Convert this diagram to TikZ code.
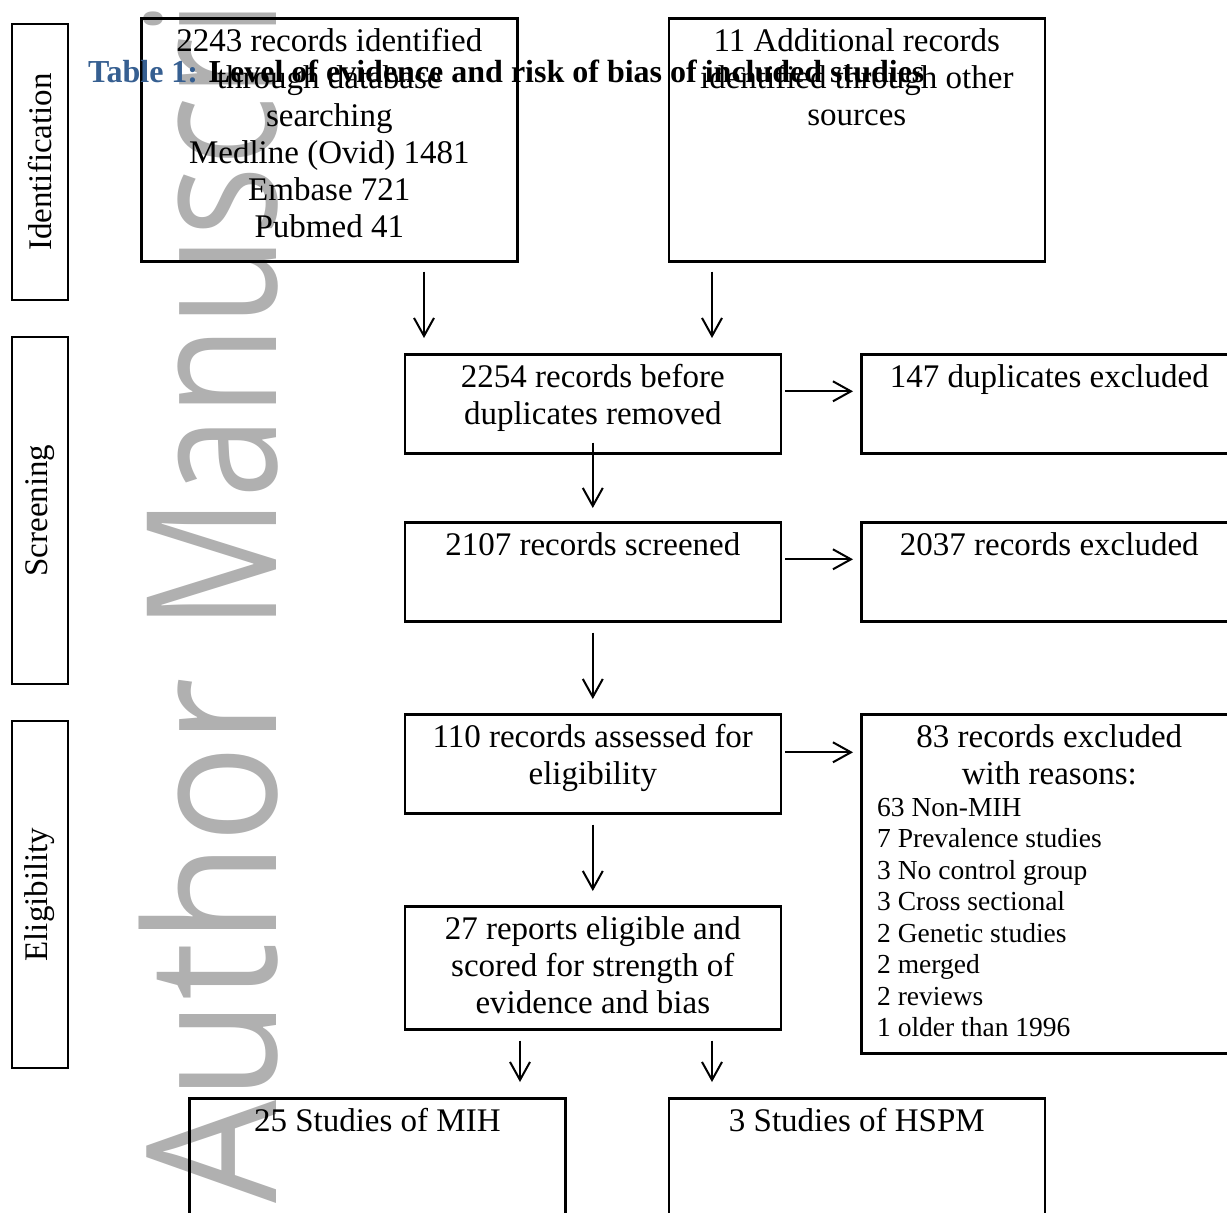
\documentclass[tikz,border=0pt]{standalone}
\usepackage{fontspec}
\setmainfont{Liberation Serif}
\newfontfamily\wmfont{Open Sans}
\usetikzlibrary{arrows.meta,calc}
\definecolor{wmgray}{RGB}{176,176,176}
\definecolor{tblue}{RGB}{54,95,145}
\begin{document}
\begin{tikzpicture}[x=1pt,y=-1pt,
  box/.style={draw, line width=2.6pt, inner sep=0pt, anchor=north west, minimum width=376pt},
  sidebox/.style={draw, line width=2.6pt, inner sep=0pt, rotate=90, minimum height=56pt, font=\fontsize{33}{37.3}\selectfont},
  txt/.style={anchor=north, inner sep=0pt, align=center, font=\fontsize{33}{37.3}\selectfont},
  wmark/.style={rotate=90, anchor=base west, inner sep=0pt, text=wmgray, font=\wmfont\fontsize{181}{181}\selectfont},
  arr/.style={line width=2pt, -{Straight Barb[length=18pt,width=20pt,line width=2pt]}}]
\useasboundingbox (0,0) rectangle (1227,1213);
\clip (0,0) rectangle (1227,1213);
\fill[white] (0,0) rectangle (1227,1213);
% watermark
\node[wmark] (wm1) at (276,1204) {\scalebox{0.9}[1]{Author}};
\node[wmark] (wm2) at (276,631) {\scalebox{0.81}[1]{Manuscript}};
% side boxes
\node[sidebox, minimum width=276pt] (sid) at (40,162) {Identification};
\node[sidebox, minimum width=347pt] (sscr) at (40,510.5) {Screening};
\node[sidebox, minimum width=347pt] (selig) at (40,894.5) {Eligibility};
% boxes
\node[box, minimum height=243pt] (a) at (140,17) {};
\node[box, minimum height=243pt] (b) at (667.5,17) {};
\node[box, minimum height=99pt] (c) at (403.5,353) {};
\node[box, minimum height=99pt] (d) at (860,353) {};
\node[box, minimum height=99pt] (e) at (403.5,521) {};
\node[box, minimum height=99pt] (f) at (860,521) {};
\node[box, minimum height=99pt] (g) at (403.5,713) {};
\node[box, minimum height=339pt] (h) at (860,713) {};
\node[box, minimum height=123pt] (i) at (403.5,905) {};
\node[box, minimum height=200pt] (j) at (188,1097) {};
\node[box, minimum height=200pt] (k) at (667.5,1097) {};
% texts
\node[txt] (ta) at ([yshift=-11pt]a.north) {2243 records identified\\through database\\searching\\Medline (Ovid) 1481\\Embase 721\\Pubmed 41};
\node[txt] (tb) at ([yshift=-11pt]b.north) {11 Additional records\\identified through other\\sources};
\node[txt] (tc) at ([yshift=-11pt]c.north) {2254 records before\\duplicates removed};
\node[txt] (td) at ([yshift=-11pt]d.north) {147 duplicates excluded};
\node[txt] (te) at ([yshift=-11pt]e.north) {2107 records screened};
\node[txt] (tf) at ([yshift=-11pt]f.north) {2037 records excluded};
\node[txt] (tg) at ([yshift=-11pt]g.north) {110 records assessed for\\eligibility};
\node[txt] (th) at ([yshift=-11pt]h.north) {83 records excluded\\with reasons:};
\node[anchor=north west, inner sep=0pt, align=left, font=\fontsize{27.5}{31.5}\selectfont] (thl) at (877,798) {63 Non-MIH\\7 Prevalence studies\\3 No control group\\3 Cross sectional\\2 Genetic studies\\2 merged\\2 reviews\\1 older than 1996};
\node[txt] (ti) at ([yshift=-11pt]i.north) {27 reports eligible and\\scored for strength of\\evidence and bias};
\node[txt] (tj) at ([yshift=-11pt]j.north) {25 Studies of MIH};
\node[txt] (tk) at ([yshift=-11pt]k.north) {3 Studies of HSPM};
% title
\node[anchor=base west, inner sep=0pt, font=\fontsize{32}{38}\selectfont\bfseries] (title) at (88,82) {\textcolor{tblue}{Table 1:} Level of evidence and risk of bias of included studies};
% arrows
\coordinate (x1) at (424,0);
\coordinate (x2) at (712,0);
\coordinate (x3) at (520,0);
\draw[arr, shorten <=9pt, shorten >=15pt] (a.south -| x1) -- (c.north -| x1);
\draw[arr, shorten <=9pt, shorten >=15pt] (b.south -| x2) -- (c.north -| x2);
\draw[arr, shorten <=-12pt, shorten >=13pt] (c.south) -- (e.north);
\draw[arr, shorten <=10pt, shorten >=14pt] (e.south) -- (g.north);
\draw[arr, shorten <=10pt, shorten >=14pt] (g.south) -- (i.north);
\draw[arr, shorten <=10pt, shorten >=15pt] (i.south -| x3) -- (j.north -| x3);
\draw[arr, shorten <=10pt, shorten >=15pt] (i.south -| x2) -- (k.north -| x2);
\draw[arr, shorten <=3pt, shorten >=7pt] ($(c.east)+(0,-12.5)$) -- ($(d.west)+(0,-12.5)$);
\draw[arr, shorten <=3pt, shorten >=7pt] ($(e.east)+(0,-12.5)$) -- ($(f.west)+(0,-12.5)$);
\draw[arr, shorten <=3pt, shorten >=7pt] ($(g.east)+(0,-11.5)$) -- ($(g.east -| h.west)+(0,-11.5)$);
\end{tikzpicture}
\end{document}
